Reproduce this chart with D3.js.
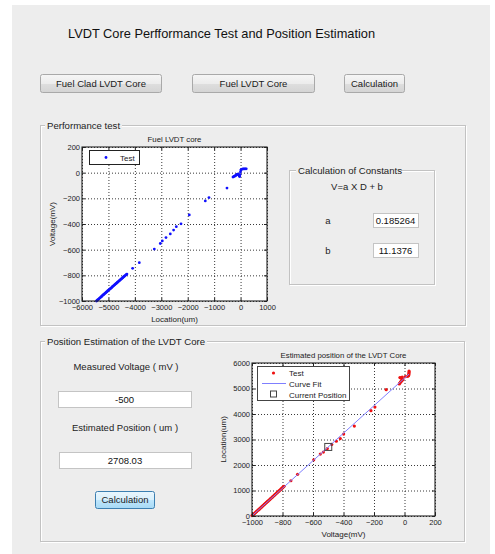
<!DOCTYPE html>
<html>
<head>
<meta charset="utf-8">
<script src="https://cdn.jsdelivr.net/npm/d3@7"></script>
<style>
  html, body { margin: 0; padding: 0; background: #ffffff; }
  svg { display: block; font-family: "Liberation Sans", Arial, sans-serif; }
</style>
</head>
<body>
<svg id="gui" width="495" height="554"></svg>
<script>
// ---- Test readings: core location (um) and LVDT output voltage (mV) ----
const testLocation = [
  -5452, -5420, -5395, -5370, -5341, -5318, -5290, -5266, -5240, -5212,
  -5188, -5160, -5135, -5110, -5083, -5057, -5030, -5005, -4980, -4952,
  -4926, -4900, -4874, -4850, -4822, -4797, -4770, -4745, -4718, -4693,
  -4666, -4640, -4615, -4588, -4562, -4536, -4510, -4485, -4458, -4432,
  -4406, -4380, -4355, -4328, -4300,
  -4085, -3832, -3264, -3037, -2962, -2822, -2659, -2534, -2432, -2254,
  -1940, -1335, -1195, -514,
  -287, -255, -220, -190, -160, -135, -110, -90, -70, -50,
  -35, -20, -5, 10, 30, 60, 100, 140, 180, 215
];
const testVoltage = [
  -1000, -994, -989, -985, -979, -975, -970, -966, -960, -955,
  -951, -946, -941, -937, -932, -927, -922, -918, -913, -908,
  -903, -899, -894, -889, -884, -880, -875, -870, -865, -861,
  -856, -851, -847, -842, -837, -832, -828, -823, -818, -813,
  -809, -804, -800, -795, -790,
  -745, -701, -595, -552, -532, -506, -477, -447, -421, -399,
  -329, -220, -194, -120,
  -34, -30, -27, -22, -18, -14, -11, -12, -18, -26,
  -30, -15, 5, 20, 26, 28, 29, 29, 30, 30
];
// shift from the test-rig location origin to the core position frame (um)
const positionOffset = 5467;

// ---- Fitted constants and current estimate ----
const constA = 0.185264;
const constB = 11.1376;
const measuredVoltage = -500;
const estimatedPosition = 2708.03;

// ---- Curve fit line (voltage mV -> position um) ----
const fitVoltage = [-1000, 30];
const fitPosition = [9, 5569];

// ---- Axis ticks ----
const perfXTicks = [-6000, -5000, -4000, -3000, -2000, -1000, 0, 1000];
const perfYTicks = [-1000, -800, -600, -400, -200, 0, 200];
const estXTicks = [-1000, -800, -600, -400, -200, 0, 200];
const estYTicks = [0, 1000, 2000, 3000, 4000, 5000, 6000];

const svg = d3.select("#gui");
const BG = "#ededed";
const FONT = "'Liberation Sans', Arial, sans-serif";

// window background
svg.append("rect").attr("x", 12).attr("y", 5).attr("width", 478).attr("height", 549).attr("fill", BG);

// defs: button gradients
const defs = svg.append("defs");
const g1 = defs.append("linearGradient").attr("id", "btnGray").attr("x1", 0).attr("y1", 0).attr("x2", 0).attr("y2", 1);
g1.append("stop").attr("offset", "0%").attr("stop-color", "#f6f6f6");
g1.append("stop").attr("offset", "50%").attr("stop-color", "#ececec");
g1.append("stop").attr("offset", "51%").attr("stop-color", "#dedede");
g1.append("stop").attr("offset", "100%").attr("stop-color", "#d4d4d4");
const g2 = defs.append("linearGradient").attr("id", "btnBlue").attr("x1", 0).attr("y1", 0).attr("x2", 0).attr("y2", 1);
g2.append("stop").attr("offset", "0%").attr("stop-color", "#eaf6fd");
g2.append("stop").attr("offset", "50%").attr("stop-color", "#d9f0fc");
g2.append("stop").attr("offset", "51%").attr("stop-color", "#bee6fd");
g2.append("stop").attr("offset", "100%").attr("stop-color", "#a7d9f5");

function label(x, y, text, size, anchor, color) {
  return svg.append("text").attr("x", x).attr("y", y).attr("font-size", size)
    .attr("text-anchor", anchor || "start").attr("fill", color || "#222").attr("font-family", FONT).text(text);
}

function button(x, y, w, h, text, blue) {
  svg.append("rect").attr("x", x + 0.5).attr("y", y + 0.5).attr("width", w).attr("height", h).attr("rx", 2)
    .attr("fill", blue ? "url(#btnBlue)" : "url(#btnGray)")
    .attr("stroke", blue ? "#3c7fb1" : "#a9a9a9");
  label(x + w / 2 + 0.5, y + h / 2 + 3.5, text, 9.5, "middle", "#1a1a1a");
}

function editBox(x, y, w, h, text) {
  svg.append("rect").attr("x", x + 0.5).attr("y", y + 0.5).attr("width", w).attr("height", h)
    .attr("fill", "#ffffff").attr("stroke", "#c4c4c4");
  label(x + w / 2, y + h / 2 + 3.5, text, 9.5, "middle", "#111");
}

function panel(x, y, w, h, title, titleX, titleW) {
  svg.append("rect").attr("x", x + 1.5).attr("y", y + 1.5).attr("width", w).attr("height", h)
    .attr("fill", "none").attr("stroke", "#ffffff");
  svg.append("rect").attr("x", x + 0.5).attr("y", y + 0.5).attr("width", w).attr("height", h)
    .attr("fill", "none").attr("stroke", "#c2c2c2");
  svg.append("rect").attr("x", titleX - 2).attr("y", y - 6).attr("width", titleW + 4).attr("height", 12).attr("fill", BG);
  label(titleX, y + 3.5, title, 9.6, "start", "#222");
}

// ---- Header ----
label(68, 38, "LVDT Core Perfformance Test and Position Estimation", 12.8, "start", "#111");
button(40, 74, 121, 18, "Fuel Clad LVDT Core");
button(192, 74, 122, 18, "Fuel LVDT Core");
button(344, 74, 60, 18, "Calculation");

// ---- Panels ----
panel(40, 125, 425, 200, "Performance test", 47, 73);
panel(40, 341, 424, 200, "Position Estimation of the LVDT Core", 47, 158);
panel(289, 170, 145, 114, "Calculation of Constants", 298, 101);

// constants panel content
label(357, 190, "V=a X D + b", 9.5, "middle", "#222");
label(328, 223.5, "a", 9.5, "middle", "#222");
label(328, 253.5, "b", 9.5, "middle", "#222");
editBox(373, 213, 45, 14, String(constA));
editBox(373, 243, 45, 14, String(constB));

// position estimation controls
label(126, 370, "Measured Voltage ( mV )", 9.5, "middle", "#222");
editBox(58, 391, 133, 16, String(measuredVoltage));
label(125, 431, "Estimated Position ( um )", 9.5, "middle", "#222");
editBox(59, 452, 132, 16, String(estimatedPosition));
button(95, 491, 59, 17, "Calculation", true);

// ---- Generic MATLAB-style axes ----
function axesBox(cfg) {
  const x = d3.scaleLinear().domain(cfg.xDomain).range([cfg.left, cfg.right]);
  const y = d3.scaleLinear().domain(cfg.yDomain).range([cfg.bottom, cfg.top]);
  const w = cfg.right - cfg.left, h = cfg.bottom - cfg.top;
  const g = svg.append("g");

  g.append("rect").attr("x", cfg.left).attr("y", cfg.top).attr("width", w).attr("height", h).attr("fill", "#ffffff");

  // dotted grid
  const gx = g.append("g").attr("transform", `translate(0,${cfg.bottom})`)
    .call(d3.axisBottom(x).tickValues(cfg.xTicks).tickSize(-h).tickFormat(""));
  const gy = g.append("g").attr("transform", `translate(${cfg.left},0)`)
    .call(d3.axisLeft(y).tickValues(cfg.yTicks).tickSize(-w).tickFormat(""));
  [gx, gy].forEach(a => {
    a.select(".domain").remove();
    a.selectAll("line").attr("stroke", "#222").attr("stroke-width", 0.9).attr("stroke-dasharray", "1,2");
  });

  cfg.drawMarks(g, x, y);

  // inward ticks with labels (bottom/left) and plain ticks (top/right)
  const ax = [
    g.append("g").attr("transform", `translate(0,${cfg.bottom})`)
      .call(d3.axisBottom(x).tickValues(cfg.xTicks).tickSize(-3).tickPadding(3.5).tickFormat(d3.format("d"))),
    g.append("g").attr("transform", `translate(${cfg.left},0)`)
      .call(d3.axisLeft(y).tickValues(cfg.yTicks).tickSize(-3).tickPadding(2).tickFormat(d3.format("d"))),
    g.append("g").attr("transform", `translate(0,${cfg.top})`)
      .call(d3.axisTop(x).tickValues(cfg.xTicks).tickSize(-3).tickFormat("")),
    g.append("g").attr("transform", `translate(${cfg.right},0)`)
      .call(d3.axisRight(y).tickValues(cfg.yTicks).tickSize(-3).tickFormat(""))
  ];
  ax.forEach(a => {
    a.select(".domain").remove();
    a.selectAll("line").attr("stroke", "#222");
    a.selectAll("text").attr("font-size", 7.5).attr("font-family", FONT).attr("fill", "#222");
  });

  g.append("rect").attr("x", cfg.left).attr("y", cfg.top).attr("width", w).attr("height", h)
    .attr("fill", "none").attr("stroke", "#222").attr("stroke-width", 1.1);

  // titles and labels
  label((cfg.left + cfg.right) / 2, cfg.top - 5, cfg.title, 7.8, "middle", "#222");
  label((cfg.left + cfg.right) / 2, cfg.bottom + 21, cfg.xLabel, 8, "middle", "#222");
  svg.append("text").attr("transform", `translate(${cfg.yLabelX},${(cfg.top + cfg.bottom) / 2}) rotate(-90)`)
    .attr("text-anchor", "middle").attr("font-size", 8).attr("font-family", FONT).attr("fill", "#222").text(cfg.yLabel);

  cfg.drawLegend(g);
  return { x, y };
}

// ---- Performance test: voltage vs location ----
const perfPts = testLocation.map((d, i) => ({ loc: d, v: testVoltage[i] }));
axesBox({
  left: 82, right: 267, top: 147, bottom: 301,
  xDomain: [-6000, 1000], yDomain: [-1000, 200],
  xTicks: perfXTicks, yTicks: perfYTicks,
  title: "Fuel LVDT core", xLabel: "Location(um)", yLabel: "Voltage(mV)", yLabelX: 55,
  drawMarks(g, x, y) {
    g.append("g").selectAll("circle").data(perfPts).join("circle")
      .attr("cx", d => x(d.loc)).attr("cy", d => y(d.v)).attr("r", 1.4).attr("fill", "#1010ff");
  },
  drawLegend(g) {
    g.append("rect").attr("x", 89.5).attr("y", 150.5).attr("width", 50).attr("height", 14)
      .attr("fill", "#ffffff").attr("stroke", "#222");
    g.append("circle").attr("cx", 106).attr("cy", 157.5).attr("r", 1.4).attr("fill", "#1010ff");
    label(120, 160.5, "Test", 8, "start", "#222");
  }
});

// ---- Estimated position: position vs voltage ----
const estPts = testLocation.map((d, i) => ({ v: testVoltage[i], pos: d + positionOffset }));
const fitPts = fitVoltage.map((v, i) => ({ v, pos: fitPosition[i] }));
axesBox({
  left: 252, right: 435, top: 363, bottom: 516,
  xDomain: [-1000, 200], yDomain: [0, 6000],
  xTicks: estXTicks, yTicks: estYTicks,
  title: "Estimated position of the LVDT Core", xLabel: "Voltage(mV)", yLabel: "Location(um)", yLabelX: 226,
  drawMarks(g, x, y) {
    g.append("g").selectAll("circle").data(estPts).join("circle")
      .attr("cx", d => x(d.v)).attr("cy", d => y(d.pos)).attr("r", 1.6).attr("fill", "#ee1111");
    g.append("path").datum(fitPts)
      .attr("d", d3.line().x(d => x(d.v)).y(d => y(d.pos)))
      .attr("fill", "none").attr("stroke", "#7f7fff").attr("stroke-width", 1);
    g.append("rect")
      .attr("x", x(measuredVoltage) - 3.5).attr("y", y(estimatedPosition) - 3.5)
      .attr("width", 7).attr("height", 7).attr("fill", "none").attr("stroke", "#444").attr("stroke-width", 1);
  },
  drawLegend(g) {
    g.append("rect").attr("x", 257.5).attr("y", 366.5).attr("width", 92).attr("height", 34)
      .attr("fill", "#ffffff").attr("stroke", "#444");
    g.append("circle").attr("cx", 273.5).attr("cy", 373).attr("r", 1.6).attr("fill", "#ee1111");
    g.append("line").attr("x1", 262).attr("x2", 286).attr("y1", 383.5).attr("y2", 383.5)
      .attr("stroke", "#7f7fff").attr("stroke-width", 1);
    g.append("rect").attr("x", 270.5).attr("y", 391).attr("width", 6).attr("height", 6)
      .attr("fill", "none").attr("stroke", "#444");
    label(289, 376, "Test", 8, "start", "#222");
    label(289, 386.5, "Curve Fit", 8, "start", "#222");
    label(289, 397.5, "Current Position", 8, "start", "#222");
  }
});
</script>
</body>
</html>
